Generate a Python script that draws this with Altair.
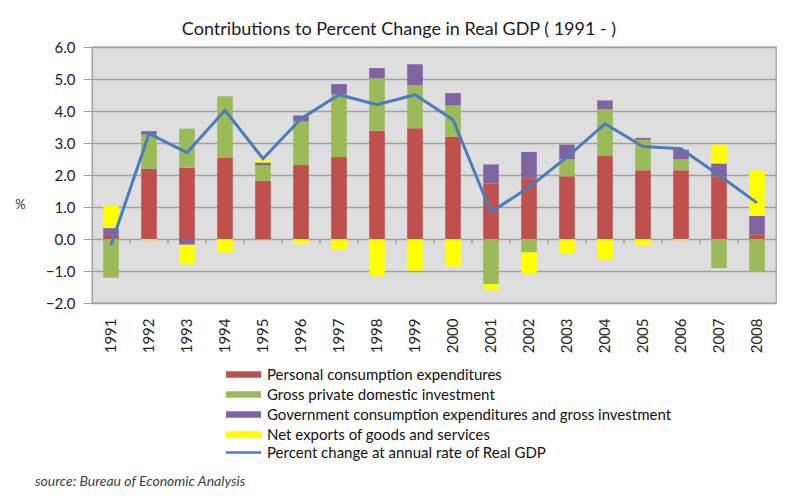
import altair as alt
import pandas as pd

years = [str(y) for y in range(1991, 2009)]
series_names = [
    "Personal consumption expenditures",
    "Gross private domestic investment",
    "Government consumption expenditures and gross investment",
    "Net exports of goods and services",
]
series_colors = ["#C0504D", "#9BBB59", "#8064A2", "#FFFF00"]
line_name = "Percent change at annual rate of Real GDP"

pce = [0.13, 2.19, 2.23, 2.53, 1.82, 2.31, 2.56, 3.38, 3.46, 3.19, 1.73, 1.90, 1.96, 2.59, 2.15, 2.15, 1.96, 0.15]
gpdi = [-1.21, 1.07, 1.22, 1.93, 0.48, 1.36, 1.96, 1.64, 1.34, 0.98, -1.41, -0.42, 0.54, 1.46, 0.95, 0.34, -0.91, -1.02]
gov = [0.21, 0.11, -0.18, 0.00, 0.09, 0.19, 0.32, 0.32, 0.66, 0.39, 0.60, 0.82, 0.45, 0.28, 0.06, 0.30, 0.40, 0.57]
netx = [0.69, -0.04, -0.61, -0.42, 0.11, -0.15, -0.33, -1.16, -0.99, -0.86, -0.19, -0.68, -0.44, -0.66, -0.21, -0.04, 0.59, 1.42]
gdp = [-0.19, 3.29, 2.70, 4.02, 2.51, 3.76, 4.51, 4.20, 4.51, 3.73, 0.84, 1.62, 2.56, 3.60, 2.89, 2.82, 1.99, 1.13]
y_ticks = [-2, -1, 0, 1, 2, 3, 4, 5, 6]

FONT = "Lato"

rows = []
for si, (name, vals) in enumerate(zip(series_names, [pce, gpdi, gov, netx])):
    for y, v in zip(years, vals):
        rows.append({"year": y, "series": name, "value": v, "order": si})
bars_df = pd.DataFrame(rows)
line_df = pd.DataFrame({"year": years, "gdp": gdp, "s": [line_name] * len(years)})
ticks_df = pd.DataFrame({"year": years[1:]})

x_scale = alt.Scale(domain=years, paddingInner=0, paddingOuter=0)
y_scale = alt.Scale(domain=[-2, 6], nice=False, zero=False)

x_axis = alt.Axis(labelAngle=-90, labelPadding=15, ticks=False, domain=False,
                  labelFont=FONT, labelFontSize=15, labelColor="#222222")
y_axis = alt.Axis(
    values=y_ticks, format=".1f", grid=True, gridColor="#a0a0a0", gridWidth=1.3,
    tickSize=9, tickColor="#a0a0a0", domainColor="#a0a0a0", labelPadding=8,
    labelOverlap=False, tickCount=9,
    labelFont=FONT, labelFontSize=15, labelColor="#222222",
    title="%", titleAngle=0, titleX=-72, titleY=157, titleAlign="center",
    titleBaseline="middle", titleFont=FONT, titleFontSize=13, titleFontWeight="normal",
    titleColor="#333333",
)

bars = alt.Chart(bars_df).mark_bar(width=alt.RelativeBandSize(0.41)).encode(
    x=alt.X("year:O", scale=x_scale, title=None, axis=x_axis),
    y=alt.Y("value:Q", scale=y_scale, axis=y_axis, stack="zero", title="%"),
    color=alt.Color(
        "series:N",
        scale=alt.Scale(domain=series_names, range=series_colors),
        legend=alt.Legend(
            orient="none", legendX=144, legendY=320, title=None, padding=0,
            symbolType="M-5,-0.9H5V0.9H-5Z", symbolSize=49, symbolStrokeWidth=0,
            symbolOpacity=1, labelOffset=16, labelFont=FONT, labelFontSize=15,
            labelColor="#111111", rowPadding=4, labelLimit=700,
        ),
    ),
    order=alt.Order("order:Q"),
)

ticks = alt.Chart(ticks_df).mark_rule(color="#888888", strokeWidth=1).encode(
    x=alt.X("year:O", scale=x_scale, bandPosition=0, title=None, axis=x_axis),
    y=alt.Y(datum=0, scale=y_scale, axis=y_axis, title="%"),
    y2=alt.Y2(datum=-0.16),
)

line = alt.Chart(line_df).mark_line(strokeWidth=3).encode(
    x=alt.X("year:O", scale=x_scale, title=None, axis=x_axis),
    y=alt.Y("gdp:Q", scale=y_scale, axis=y_axis, title="%"),
    stroke=alt.Stroke(
        "s:N",
        scale=alt.Scale(domain=[line_name], range=["#4A7EBB"]),
        legend=alt.Legend(
            orient="none", legendX=144, legendY=398, title=None, padding=0,
            symbolType="M-5,0H5", symbolSize=49, symbolStrokeWidth=2.5,
            labelOffset=16, labelFont=FONT, labelFontSize=15, labelColor="#111111",
            labelLimit=700,
        ),
    ),
)

source = alt.Chart(pd.DataFrame({"t": ["source: Bureau of Economic Analysis"]})).mark_text(
    align="left", baseline="middle", font=FONT, fontSize=14, fontStyle="italic", color="#404040"
).encode(x=alt.value(-57), y=alt.value(435), text="t:N")

chart = alt.layer(bars, ticks, line, source).resolve_legend(color="independent", stroke="independent").properties(
    width=684, height=256,
    padding={"left": 92, "top": 47, "right": 24, "bottom": 198},
    autosize=alt.AutoSizeParams(type="none"),
    background="white",
    title=alt.TitleParams(
        "Contributions to Percent Change in Real GDP ( 1991 -  )",
        font=FONT, fontSize=18, fontWeight="normal", color="#1a1a1a",
        anchor="middle", frame="group", dx=-35, offset=11, dy=10,
    ),
).configure_view(fill="#dedede", stroke="#a0a0a0", strokeWidth=1.3)

chart.save("out.html", embed_options={"renderer": "svg", "actions": False})
